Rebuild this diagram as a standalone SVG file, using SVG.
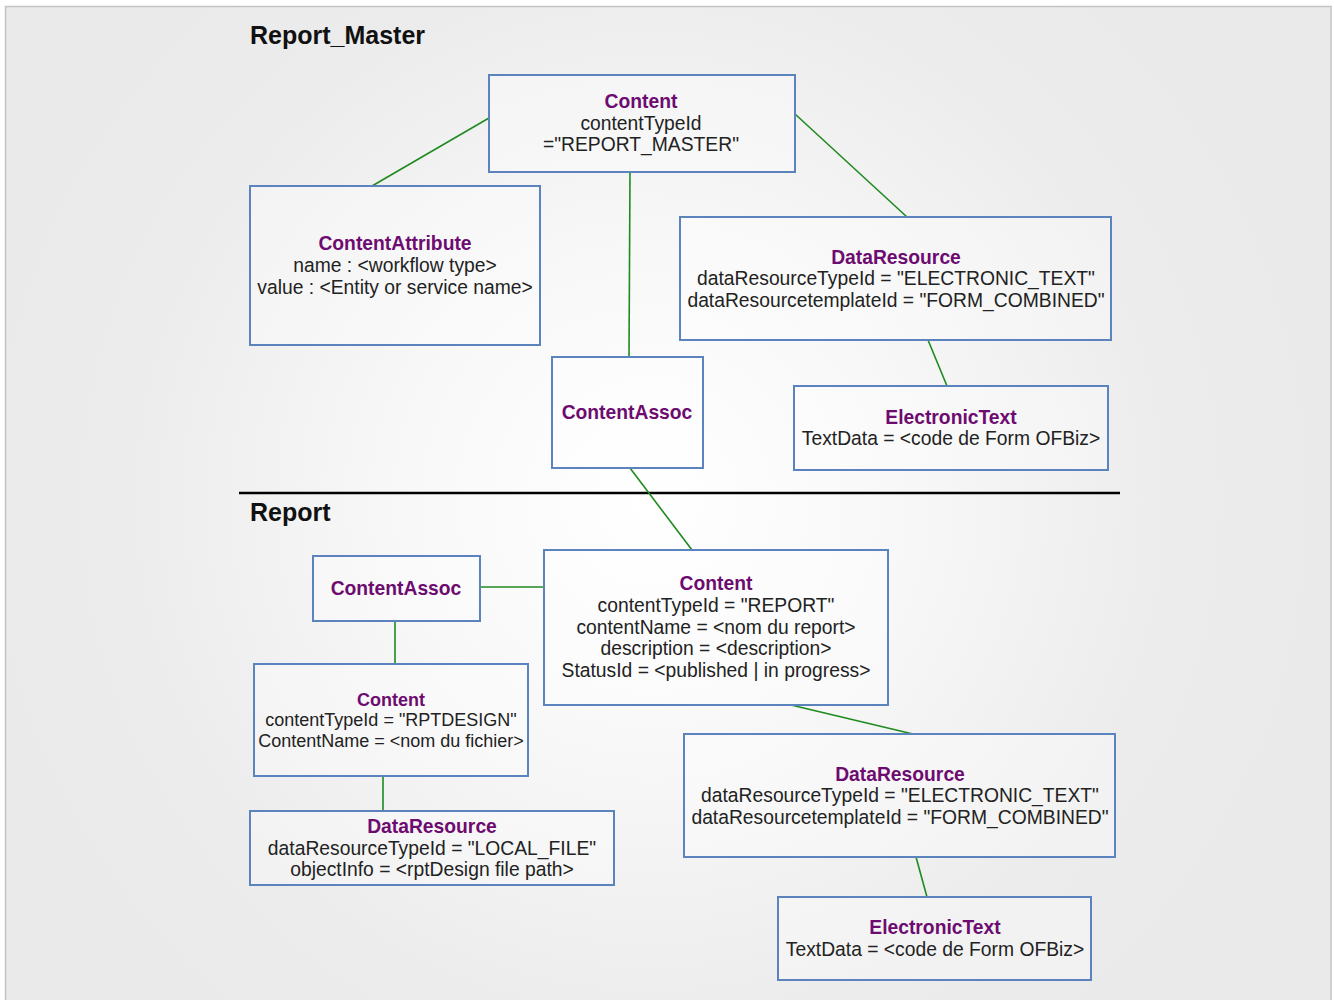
<svg xmlns="http://www.w3.org/2000/svg" width="1334" height="1000" viewBox="0 0 1334 1000">
<defs>
<radialGradient id="bg" gradientUnits="userSpaceOnUse" cx="650" cy="500" r="700">
<stop offset="0" stop-color="#ffffff"/>
<stop offset="0.35" stop-color="#f8f8f8"/>
<stop offset="0.75" stop-color="#ececec"/>
<stop offset="1" stop-color="#eaeaea"/>
</radialGradient>
<style>
.box{fill:#ffffff;fill-opacity:0.35;stroke:#5b84bf;stroke-width:2}
.con{stroke:#1f8a1f;stroke-width:1.6;fill:none}
.t{font-family:"Liberation Sans",Arial,sans-serif;font-size:19.3px;fill:#222222;text-anchor:middle}
.s{font-size:18px}
.h{font-weight:bold;fill:#6d0b70}
.title{font-family:"Liberation Sans",Arial,sans-serif;font-size:25px;font-weight:bold;fill:#111111}
</style>
</defs>
<rect x="0" y="0" width="1334" height="1000" fill="#ffffff"/>
<rect x="5.5" y="6.5" width="1325.5" height="1000" fill="url(#bg)" stroke="#c4c4c4" stroke-width="1.5"/>
<text class="title" x="250" y="44">Report_Master</text>
<line x1="239" y1="493" x2="1120" y2="493" stroke="#000000" stroke-width="2.5"/>
<text class="title" x="250" y="521">Report</text>
<g id="connectors">
<line class="con" x1="489" y1="118" x2="372" y2="186"/>
<line class="con" x1="795" y1="114" x2="907" y2="217"/>
<line class="con" x1="630" y1="172" x2="629" y2="357"/>
<line class="con" x1="928" y1="340" x2="947" y2="386"/>
<line class="con" x1="630" y1="468" x2="692" y2="550"/>
<line class="con" x1="480" y1="587" x2="544" y2="587"/>
<line class="con" x1="395" y1="621" x2="395" y2="664"/>
<line class="con" x1="383" y1="776" x2="383" y2="811"/>
<line class="con" x1="791" y1="705" x2="913" y2="734"/>
<line class="con" x1="916" y1="857" x2="927" y2="897"/>
</g>
<g id="content-master">
<rect class="box" x="489" y="75" width="306" height="97"/>
<text class="t h" x="641" y="108">Content</text>
<text class="t" x="641" y="130">contentTypeId</text>
<text class="t" x="641" y="151">="REPORT_MASTER"</text>
</g>
<g id="contentattribute">
<rect class="box" x="250" y="186" width="290" height="159"/>
<text class="t h" x="395" y="250">ContentAttribute</text>
<text class="t" x="395" y="272">name : &lt;workflow type&gt;</text>
<text class="t" x="395" y="294">value : &lt;Entity or service name&gt;</text>
</g>
<g id="dataresource-master">
<rect class="box" x="680" y="217" width="431" height="123"/>
<text class="t h" x="896" y="264">DataResource</text>
<text class="t" x="896" y="285">dataResourceTypeId = "ELECTRONIC_TEXT"</text>
<text class="t" x="896" y="307">dataResourcetemplateId = "FORM_COMBINED"</text>
</g>
<g id="contentassoc-master">
<rect class="box" x="552" y="357" width="151" height="111"/>
<text class="t h" x="627" y="419">ContentAssoc</text>
</g>
<g id="electronictext-master">
<rect class="box" x="794" y="386" width="314" height="84"/>
<text class="t h" x="951" y="424">ElectronicText</text>
<text class="t" x="951" y="445">TextData = &lt;code de Form OFBiz&gt;</text>
</g>
<g id="contentassoc-report">
<rect class="box" x="313" y="556" width="167" height="65"/>
<text class="t h" x="396" y="595">ContentAssoc</text>
</g>
<g id="content-report">
<rect class="box" x="544" y="550" width="344" height="155"/>
<text class="t h" x="716" y="590">Content</text>
<text class="t" x="716" y="612">contentTypeId = "REPORT"</text>
<text class="t" x="716" y="634">contentName = &lt;nom du report&gt;</text>
<text class="t" x="716" y="655">description = &lt;description&gt;</text>
<text class="t" x="716" y="677">StatusId = &lt;published | in progress&gt;</text>
</g>
<g id="content-rptdesign">
<rect class="box" x="254" y="664" width="274" height="112"/>
<text class="t s h" x="391" y="706">Content</text>
<text class="t s" x="391" y="726">contentTypeId = "RPTDESIGN"</text>
<text class="t s" x="391" y="747">ContentName = &lt;nom du fichier&gt;</text>
</g>
<g id="dataresource-localfile">
<rect class="box" x="250" y="811" width="364" height="74"/>
<text class="t h" x="432" y="833">DataResource</text>
<text class="t" x="432" y="855">dataResourceTypeId = "LOCAL_FILE"</text>
<text class="t" x="432" y="876">objectInfo = &lt;rptDesign file path&gt;</text>
</g>
<g id="dataresource-report">
<rect class="box" x="684" y="734" width="431" height="123"/>
<text class="t h" x="900" y="781">DataResource</text>
<text class="t" x="900" y="802">dataResourceTypeId = "ELECTRONIC_TEXT"</text>
<text class="t" x="900" y="824">dataResourcetemplateId = "FORM_COMBINED"</text>
</g>
<g id="electronictext-report">
<rect class="box" x="778" y="897" width="313" height="83"/>
<text class="t h" x="935" y="934">ElectronicText</text>
<text class="t" x="935" y="956">TextData = &lt;code de Form OFBiz&gt;</text>
</g>
</svg>
